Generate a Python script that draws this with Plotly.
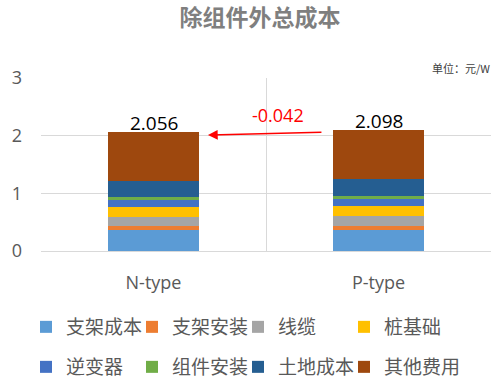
import plotly.graph_objects as go

categories = ["N-type", "P-type"]
series_names = ["支架成本", "支架安装", "线缆", "桩基础", "逆变器", "组件安装", "土地成本", "其他费用"]
colors = ["#5B9BD5", "#ED7D31", "#A5A5A5", "#FFC000", "#4472C4", "#70AD47", "#255E91", "#9E480E"]

bracket_cost = [0.364, 0.364]
bracket_install = [0.069, 0.069]
cable = [0.156, 0.174]
pile = [0.179, 0.173]
inverter = [0.116, 0.127]
module_install = [0.046, 0.046]
land = [0.288, 0.289]
other = [0.838, 0.856]
totals = [2.056, 2.098]

series_values = [bracket_cost, bracket_install, cable, pile, inverter, module_install, land, other]

FONT = "Open Sans, Noto Sans CJK SC, sans-serif"
CJK = "Noto Sans CJK SC, sans-serif"

# legend layout: 2 rows x 4 columns, one legend per entry
legend_cols_px = [26, 132, 238, 344]
legend_rows_px = [327, 367]

fig = go.Figure()
legend_layouts = {}
for i, (name, vals, col) in enumerate(zip(series_names, series_values, colors)):
    key = "legend" if i == 0 else f"legend{i + 1}"
    fig.add_trace(go.Bar(
        x=categories, y=vals, name=name, marker=dict(color=col, line=dict(width=0)),
        width=0.404, legend=key,
    ))
    r, c = divmod(i, 4)
    legend_layouts[key] = dict(
        orientation="h", xref="container", yref="container",
        x=legend_cols_px[c] / 500, xanchor="left",
        y=1 - legend_rows_px[r] / 387, yanchor="middle",
        font=dict(family=CJK, size=19, color="#595959"), itemwidth=30,
        bgcolor="rgba(0,0,0,0)",
    )

for c, t in zip(categories, totals):
    fig.add_annotation(x=c, y=t, text=f"{t:.3f}", showarrow=False, yanchor="bottom",
                       yshift=-6, font=dict(family=FONT, size=19, color="#000000"))

diff = totals[0] - totals[1]
fig.add_annotation(x=0.242, y=2.01, ax=0.753, ay=2.06, xref="x", yref="y", axref="x", ayref="y",
                   text="", showarrow=True, arrowhead=2, arrowsize=1.3, arrowwidth=1.5,
                   arrowcolor="#FF0000")
fig.add_annotation(x=0.555, y=2.36, xref="x", yref="y", text=f"{diff:.3f}", showarrow=False,
                   font=dict(family=FONT, size=18, color="#FF0000"))

fig.add_annotation(x=1.002, y=1, xref="paper", yref="paper", xanchor="right", yanchor="bottom",
                   text="单位：元/W", showarrow=False, yshift=0,
                   font=dict(family=CJK, size=11, color="#404040"))

fig.update_layout(
    width=500, height=387,
    margin=dict(l=41, r=9, t=78, b=136, autoexpand=False),
    paper_bgcolor="white", plot_bgcolor="white",
    barmode="stack", bargap=0.596,
    title=dict(text="<b>除组件外总成本</b>", x=0.52, xanchor="center", y=1 - 18 / 387, yanchor="middle",
               xref="container", yref="container",
               font=dict(family=CJK, size=23, color="#7F7F7F")),
    xaxis=dict(type="category", tickson="boundaries", showgrid=True, gridcolor="#D9D9D9", gridwidth=1,
               showline=True, linecolor="#D9D9D9", ticks="", ticklabelstandoff=15,
               tickfont=dict(family=FONT, size=18, color="#595959"), range=[-0.5, 1.5]),
    yaxis=dict(range=[0, 3], dtick=1, showgrid=True, gridcolor="#D9D9D9", gridwidth=1,
               zeroline=False, showline=False, ticks="", ticklabelstandoff=18,
               tickfont=dict(family=FONT, size=18, color="#595959")),
    showlegend=True,
    **legend_layouts,
)

fig.write_html("out.html", config={"displayModeBar": False},
               post_script="document.body.style.margin='0';")
